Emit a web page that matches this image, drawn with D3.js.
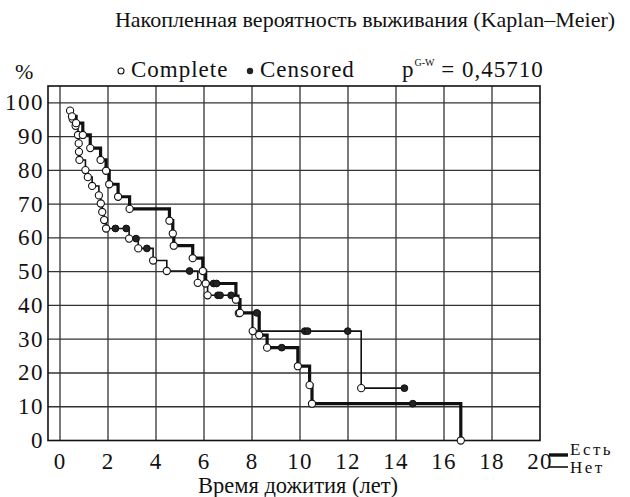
<!DOCTYPE html>
<html>
<head>
<meta charset="utf-8">
<script src="https://cdn.jsdelivr.net/npm/d3@7"></script>
<style>
  body { margin: 0; background: #fff; }
  text { font-family: "Liberation Serif", "DejaVu Serif", serif; fill: #111; }
  .grid line { stroke: #333; stroke-width: 1.3; }
</style>
</head>
<body>
<div id="main"></div>
<script>
// survival time in years, cumulative survival in %
// group "Есть" (thick line)
const estEvents = [
  [0.50, 96.0], [0.67, 94.0], [0.95, 90.5], [1.26, 86.6], [1.69, 83.1],
  [1.92, 79.9], [2.05, 75.9], [2.42, 72.2], [2.90, 68.6], [4.56, 65.1],
  [4.70, 61.3], [4.74, 57.7], [5.53, 54.0], [5.95, 50.2], [6.07, 46.5],
  [7.33, 41.7], [7.50, 37.8], [8.30, 31.2], [8.63, 27.5], [9.91, 22.0],
  [10.40, 16.4], [10.50, 10.9], [16.70, 0]
];
const estCensored = [6.40, 6.52, 8.20, 9.24, 14.70];

// group "Нет" (thin line)
const netEvents = [
  [0.42, 97.7], [0.53, 95.2], [0.65, 93.2], [0.75, 90.5], [0.78, 88.0],
  [0.79, 85.5], [0.81, 83.1], [1.06, 80.1], [1.16, 78.0], [1.34, 75.4],
  [1.62, 72.6], [1.70, 70.2], [1.76, 67.7], [1.84, 65.3], [1.92, 62.8],
  [2.88, 59.8], [3.26, 56.9], [3.88, 53.3], [4.45, 50.2], [5.74, 46.7],
  [6.15, 43.0], [7.45, 37.7], [8.03, 32.4], [12.55, 15.5]
];
const netCensored = [2.31, 2.76, 3.17, 3.62, 5.40, 6.58, 6.67, 7.13, 10.20, 10.32, 11.99, 14.35];

const xTicks = [0, 2, 4, 6, 8, 10, 12, 14, 16, 18, 20];
const yTicks = [0, 10, 20, 30, 40, 50, 60, 70, 80, 90, 100];

const ctx = { W: 630, H: 497 };

function levelAt(events, t) {
  let s = 100;
  events.forEach(e => { if (e[0] <= t) s = e[1]; });
  return s;
}

function stepPoints(events, censored) {
  let pts = events.map(e => [e[0], e[1]]);
  let lastT = d3.max(censored);
  let endT = events[events.length - 1][0];
  if (lastT > endT) pts.push([lastT, levelAt(events, lastT)]);
  return pts;
}

function createViz() {
  let svg = d3.select("#main").append("svg")
    .attr("width", ctx.W).attr("height", ctx.H);

  let x = d3.scaleLinear().domain([-0.5, 20]).range([48, 540]);
  let y = d3.scaleLinear().domain([0, 105]).range([440.5, 86]);

  // grid
  let grid = svg.append("g").attr("class", "grid");
  grid.selectAll("line.v").data(xTicks.filter(d => d < 20)).enter().append("line")
    .attr("x1", d => x(d)).attr("x2", d => x(d))
    .attr("y1", y(0)).attr("y2", y(105));
  grid.selectAll("line.h").data(yTicks.filter(d => d > 0)).enter().append("line")
    .attr("y1", d => y(d)).attr("y2", d => y(d))
    .attr("x1", x(-0.5)).attr("x2", x(20));

  svg.append("rect")
    .attr("x", x(-0.5)).attr("y", y(105))
    .attr("width", x(20) - x(-0.5)).attr("height", y(0) - y(105))
    .attr("fill", "none").attr("stroke", "#111").attr("stroke-width", 1.6);

  // tick labels
  svg.append("g").selectAll("text").data(yTicks).enter().append("text")
    .attr("x", 44).attr("y", d => y(d) + 7.5)
    .attr("text-anchor", "end").attr("font-size", 23)
    .attr("letter-spacing", 1.5)
    .text(d => d);
  svg.append("g").selectAll("text").data(xTicks).enter().append("text")
    .attr("x", d => x(d)).attr("y", 469)
    .attr("text-anchor", "middle").attr("font-size", 23)
    .attr("letter-spacing", 1.2)
    .text(d => d);

  let line = d3.line()
    .x(d => x(d[0])).y(d => y(d[1]))
    .curve(d3.curveStepAfter);

  function drawGroup(events, censored, width) {
    let g = svg.append("g");
    g.append("path")
      .attr("d", line(stepPoints(events, censored)))
      .attr("fill", "none").attr("stroke", "#111")
      .attr("stroke-width", width);
    g.selectAll("circle.c").data(events).enter().append("circle")
      .attr("cx", d => x(d[0])).attr("cy", d => y(d[1]))
      .attr("r", 3.6).attr("fill", "#fff")
      .attr("stroke", "#111").attr("stroke-width", 1.1);
    g.selectAll("circle.z").data(censored).enter().append("circle")
      .attr("cx", d => x(d)).attr("cy", d => y(levelAt(events, d)))
      .attr("r", 3.4).attr("fill", "#222")
      .attr("stroke", "#111").attr("stroke-width", 1);
  }
  drawGroup(netEvents, netCensored, 1.6);
  drawGroup(estEvents, estCensored, 3.2);

  // titles
  svg.append("text").attr("x", 365).attr("y", 27)
    .attr("text-anchor", "middle").attr("font-size", 22)
    .text("Накопленная вероятность выживания (Kaplan–Meier)");
  svg.append("text").attr("x", 15).attr("y", 79).attr("font-size", 22).text("%");

  svg.append("circle").attr("cx", 121).attr("cy", 71).attr("r", 3)
    .attr("fill", "#fff").attr("stroke", "#111").attr("stroke-width", 1.1);
  svg.append("text").attr("x", 131).attr("y", 77).attr("font-size", 23)
    .attr("letter-spacing", 1).text("Complete");
  svg.append("circle").attr("cx", 250).attr("cy", 71).attr("r", 3.2)
    .attr("fill", "#222");
  svg.append("text").attr("x", 260).attr("y", 77).attr("font-size", 23)
    .attr("letter-spacing", 1).text("Censored");

  let p = svg.append("text").attr("x", 402).attr("y", 77).attr("font-size", 23)
    .attr("letter-spacing", 1);
  p.append("tspan").text("p");
  p.append("tspan").attr("dy", -11).attr("font-size", 10).attr("letter-spacing", 0).text("G-W");
  p.append("tspan").attr("dy", 11).text(" = 0,45710");

  svg.append("text").attr("x", 298).attr("y", 493)
    .attr("text-anchor", "middle").attr("font-size", 22.5)
    .text("Время дожития (лет)");

  // legend
  svg.append("line").attr("x1", 549).attr("x2", 568).attr("y1", 455).attr("y2", 455)
    .attr("stroke", "#111").attr("stroke-width", 3.4);
  svg.append("line").attr("x1", 549).attr("x2", 568).attr("y1", 467).attr("y2", 467)
    .attr("stroke", "#111").attr("stroke-width", 1.6);
  svg.append("text").attr("x", 570).attr("y", 455).attr("font-size", 17)
    .attr("letter-spacing", 2.5).text("Есть");
  svg.append("text").attr("x", 570).attr("y", 473).attr("font-size", 17)
    .attr("letter-spacing", 2.5).text("Нет");
}

createViz();
</script>
</body>
</html>
